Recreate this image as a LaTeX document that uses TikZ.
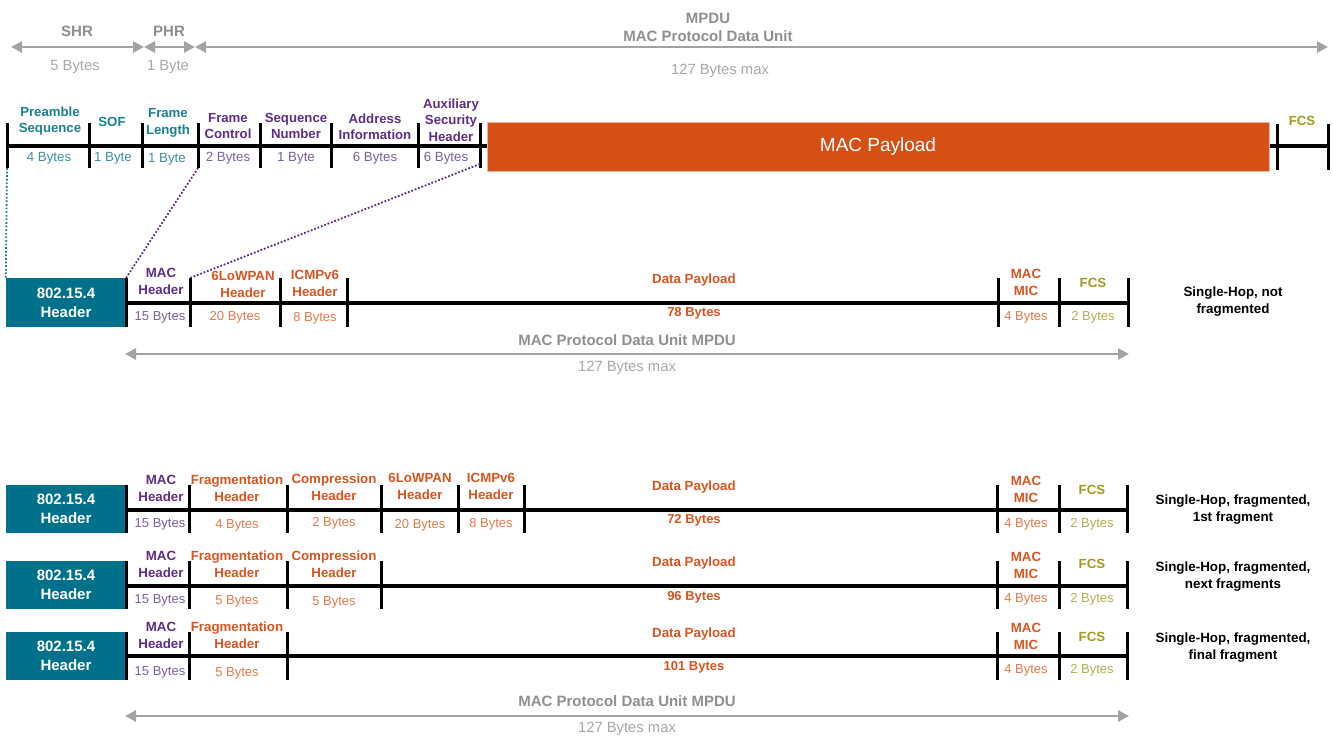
\documentclass[tikz,border=0pt]{standalone}
\usepackage{fontspec}
\setmainfont{Liberation Sans}
\usetikzlibrary{arrows.meta}
\definecolor{cteal}{HTML}{00718A}
\definecolor{ctealt}{HTML}{1B8090}
\definecolor{ctealL}{HTML}{3E909C}
\definecolor{cpur}{HTML}{5E2D87}
\definecolor{cpurL}{HTML}{7B5E9E}
\definecolor{corg}{HTML}{D9541E}
\definecolor{corgL}{HTML}{E4794A}
\definecolor{colv}{HTML}{A09B1C}
\definecolor{colvL}{HTML}{B3AE4E}
\definecolor{cgrayb}{HTML}{8F8F8F}
\definecolor{cgrayl}{HTML}{A8A8A8}
\definecolor{carrow}{HTML}{A3A3A3}
\definecolor{cpay}{HTML}{D55016}
\definecolor{cpayE}{HTML}{F2B49A}
\begin{document}
\begin{tikzpicture}[x=1pt,y=-1pt,
  graybold/.style={font=\bfseries\fontsize{15}{18}\selectfont, text=cgrayb, align=center, inner sep=0pt},
  graylight/.style={font=\fontsize{14.8}{18}\selectfont, text=cgrayl, inner sep=0pt, text height=10.6pt, text depth=0pt},
  garrow/.style={draw=carrow, line width=2.7pt, {Triangle[length=11pt,width=11pt]}-{Triangle[length=11pt,width=11pt]}},
  toplab/.style={font=\bfseries\fontsize{13.2}{16.5}\selectfont, align=center, inner sep=0pt},
  topsz/.style={font=\fontsize{13.3}{16}\selectfont, inner sep=0pt, text height=9.5pt, text depth=0pt},
  rowlab/.style={font=\bfseries\fontsize{13.3}{17}\selectfont, align=center, inner sep=0pt},
  rowsz/.style={font=\fontsize{13}{16}\selectfont, inner sep=0pt, text height=9.3pt, text depth=0pt},
  rowszb/.style={font=\bfseries\fontsize{13}{16}\selectfont, inner sep=0pt, text height=9.3pt, text depth=0pt},
  desc/.style={font=\bfseries\fontsize{13.4}{17}\selectfont, align=center, inner sep=0pt},
  hdrbox/.style={fill=cteal, text=white, font=\bfseries\fontsize{15}{19}\selectfont, align=center, inner sep=0pt, minimum width=120pt, minimum height=48pt},
  bar/.style={line width=4.5pt, black},
  tick/.style={line width=3pt, black},
  tdot/.style={draw=ctealt, line width=1.8pt, dash pattern=on 1.8pt off 1.8pt},
  pdot/.style={draw=cpur, line width=1.8pt, dash pattern=on 1.8pt off 1.8pt}
]
\useasboundingbox (0,0) rectangle (1333,736);

% ---------- top: SHR / PHR / MPDU ----------
\node[graybold] (shr) at (77,31) {SHR};
\node[graybold] (phr) at (169,31) {PHR};
\node[graybold] (mpdu) at (708,27) {MPDU\\MAC Protocol Data Unit};
\coordinate (a0) at (11,47);
\coordinate (a1) at (144,47);
\coordinate (a2) at (195,47);
\coordinate (a3) at (1328,47);
\draw[garrow] (a0) -- (a1);
\draw[garrow] (a1) -- (a2);
\draw[garrow] (a2) -- (a3);
\node[graylight] (shrb) at (75,65) {5 Bytes};
\node[graylight] (phrb) at (168,65) {1 Byte};
\node[graylight] (mpdub) at (720,69) {127 Bytes max};

% ---------- top frame row ----------
\draw[bar] (7,146) -- (1328,146);
\node[fill=cpay, draw=cpayE, line width=0.6pt, minimum width=782pt, minimum height=49pt, inner sep=0pt,
      text=white, font=\fontsize{19}{22}\selectfont] (pl) at (878,146.5) {MAC Payload};
\foreach \x in {7,89,142,198,260,331,418,480} \draw[tick] (\x,123) -- (\x,168);
\draw[tick] (1277,124) -- (1277,170);
\draw[tick] (1328,124) -- (1328,170);
\coordinate (t0) at (7,168);
\coordinate (fcb) at (198,168);
\coordinate (axb) at (480,164);

\node[toplab, text=ctealt] (pre) at (50,121) {Preamble\\Sequence};
\node[toplab, text=ctealt] (sof) at (112,122) {SOF};
\node[toplab, text=ctealt] (fl) at (168,123) {Frame\\Length};
\node[toplab, text=cpur] (fc) at (228,126) {Frame\\Control};
\node[toplab, text=cpur] (sn) at (296,126) {Sequence\\Number};
\node[toplab, text=cpur] (ai) at (375,127) {Address\\Information};
\node[toplab, text=cpur] (ash) at (451,120) {Auxiliary\\Security\\Header};
\node[topsz, text=ctealL] (preb) at (49,157) {4 Bytes};
\node[topsz, text=ctealL] (sofb) at (113,157) {1 Byte};
\node[topsz, text=ctealL] (flb) at (167,158) {1 Byte};
\node[topsz, text=cpurL] (fcb2) at (228,157) {2 Bytes};
\node[topsz, text=cpurL] (snb) at (296,157) {1 Byte};
\node[topsz, text=cpurL] (aib) at (375,157) {6 Bytes};
\node[topsz, text=cpurL] (ashb) at (446,157) {6 Bytes};
\node[toplab, text=colv] (fcs0) at (1302,121) {FCS};

% ---------- row 1 ----------
\node[hdrbox, minimum height=49pt] (h1) at (66,302.5) {802.15.4\\Header};
\draw[bar] (126,303) -- (1128,303);
\foreach \x in {126,190,280,347,998,1059,1128} \draw[tick] (\x,278) -- (\x,327);
\coordinate (mh1) at (190,278);
\draw[tdot] (t0) -- (h1.north west);
\draw[pdot] (fcb) -- (h1.north east);
\draw[pdot] (axb) -- (mh1);
\node[rowlab, text=cpur] (r1a) at (161,281.5) {MAC\\Header};
\node[rowlab, text=corg] (r1b) at (243,284.5) {6LoWPAN\\Header};
\node[rowlab, text=corg] (r1c) at (315,283.5) {ICMPv6\\Header};
\node[rowlab, text=corg] (r1d) at (694,280) {Data Payload};
\node[rowlab, text=corg] (r1e) at (1026,282.5) {MAC\\MIC};
\node[rowlab, text=colv] (r1f) at (1093,283) {FCS};
\node[rowsz, text=cpurL] (r1ab) at (160,316) {15 Bytes};
\node[rowsz, text=corgL] (r1bb) at (235,316) {20 Bytes};
\node[rowsz, text=corgL] (r1cb) at (315,317) {8 Bytes};
\node[rowszb, text=corg] (r1db) at (694,312) {78 Bytes};
\node[rowsz, text=corgL] (r1eb) at (1026,316) {4 Bytes};
\node[rowsz, text=colvL] (r1fb) at (1093,316) {2 Bytes};
\node[desc] (d1) at (1233,301.5) {Single-Hop, not\\fragmented};
\node[graybold] (m1) at (627,340) {MAC Protocol Data Unit MPDU};
\coordinate (b1l) at (125,354);
\coordinate (b1r) at (1129,354);
\draw[garrow] (b1l) -- (b1r);
\node[graylight] (m1b) at (627,366) {127 Bytes max};

% ---------- row 2 ----------
\node[hdrbox] (h2) at (66,509) {802.15.4\\Header};
\draw[bar] (126,510) -- (1127,510);
\foreach \x in {126,189,287,381,458,524,997,1059,1127} \draw[tick] (\x,485) -- (\x,533);
\node[rowlab, text=cpur] (r2a) at (161,488.5) {MAC\\Header};
\node[rowlab, text=corg] (r2b) at (237,488.5) {Fragmentation\\Header};
\node[rowlab, text=corg] (r2c) at (334,487.5) {Compression\\Header};
\node[rowlab, text=corg] (r2d) at (420,486.5) {6LoWPAN\\Header};
\node[rowlab, text=corg] (r2e) at (491,486.5) {ICMPv6\\Header};
\node[rowlab, text=corg] (r2f) at (694,487) {Data Payload};
\node[rowlab, text=corg] (r2g) at (1026,489) {MAC\\MIC};
\node[rowlab, text=colv] (r2h) at (1092,490) {FCS};
\node[rowsz, text=cpurL] (r2ab) at (160,523) {15 Bytes};
\node[rowsz, text=corgL] (r2bb) at (237,524) {4 Bytes};
\node[rowsz, text=corgL] (r2cb) at (334,522) {2 Bytes};
\node[rowsz, text=corgL] (r2db) at (420,524) {20 Bytes};
\node[rowsz, text=corgL] (r2eb) at (491,523) {8 Bytes};
\node[rowszb, text=corg] (r2fb) at (694,519) {72 Bytes};
\node[rowsz, text=corgL] (r2gb) at (1026,523) {4 Bytes};
\node[rowsz, text=colvL] (r2hb) at (1092,523) {2 Bytes};
\node[desc] (d2) at (1233,509.5) {Single-Hop, fragmented,\\1st fragment};

% ---------- row 3 ----------
\node[hdrbox] (h3) at (66,585) {802.15.4\\Header};
\draw[bar] (126,586) -- (1127,586);
\foreach \x in {126,189,287,381,997,1059,1127} \draw[tick] (\x,561) -- (\x,609);
\node[rowlab, text=cpur] (r3a) at (161,564.5) {MAC\\Header};
\node[rowlab, text=corg] (r3b) at (237,564.5) {Fragmentation\\Header};
\node[rowlab, text=corg] (r3c) at (334,564) {Compression\\Header};
\node[rowlab, text=corg] (r3f) at (694,563) {Data Payload};
\node[rowlab, text=corg] (r3g) at (1026,565.5) {MAC\\MIC};
\node[rowlab, text=colv] (r3h) at (1092,564) {FCS};
\node[rowsz, text=cpurL] (r3ab) at (160,599) {15 Bytes};
\node[rowsz, text=corgL] (r3bb) at (237,600) {5 Bytes};
\node[rowsz, text=corgL] (r3cb) at (334,601) {5 Bytes};
\node[rowszb, text=corg] (r3fb) at (694,596) {96 Bytes};
\node[rowsz, text=corgL] (r3gb) at (1026,598) {4 Bytes};
\node[rowsz, text=colvL] (r3hb) at (1092,598) {2 Bytes};
\node[desc] (d3) at (1233,576.5) {Single-Hop, fragmented,\\next fragments};

% ---------- row 4 ----------
\node[hdrbox] (h4) at (66,656) {802.15.4\\Header};
\draw[bar] (126,656) -- (1127,656);
\foreach \x in {126,189,287,997,1059,1127} \draw[tick] (\x,632) -- (\x,680);
\node[rowlab, text=cpur] (r4a) at (161,635.5) {MAC\\Header};
\node[rowlab, text=corg] (r4b) at (237,635.5) {Fragmentation\\Header};
\node[rowlab, text=corg] (r4f) at (694,634) {Data Payload};
\node[rowlab, text=corg] (r4g) at (1026,636.5) {MAC\\MIC};
\node[rowlab, text=colv] (r4h) at (1092,637) {FCS};
\node[rowsz, text=cpurL] (r4ab) at (160,671) {15 Bytes};
\node[rowsz, text=corgL] (r4bb) at (237,672) {5 Bytes};
\node[rowszb, text=corg] (r4fb) at (694,666) {101 Bytes};
\node[rowsz, text=corgL] (r4gb) at (1026,669) {4 Bytes};
\node[rowsz, text=colvL] (r4hb) at (1092,669) {2 Bytes};
\node[desc] (d4) at (1233,647.5) {Single-Hop, fragmented,\\final fragment};

% ---------- bottom MPDU ----------
\node[graybold] (m2) at (627,701) {MAC Protocol Data Unit MPDU};
\coordinate (b2l) at (125,716);
\coordinate (b2r) at (1129,716);
\draw[garrow] (b2l) -- (b2r);
\node[graylight] (m2b) at (627,727) {127 Bytes max};
\end{tikzpicture}
\end{document}
